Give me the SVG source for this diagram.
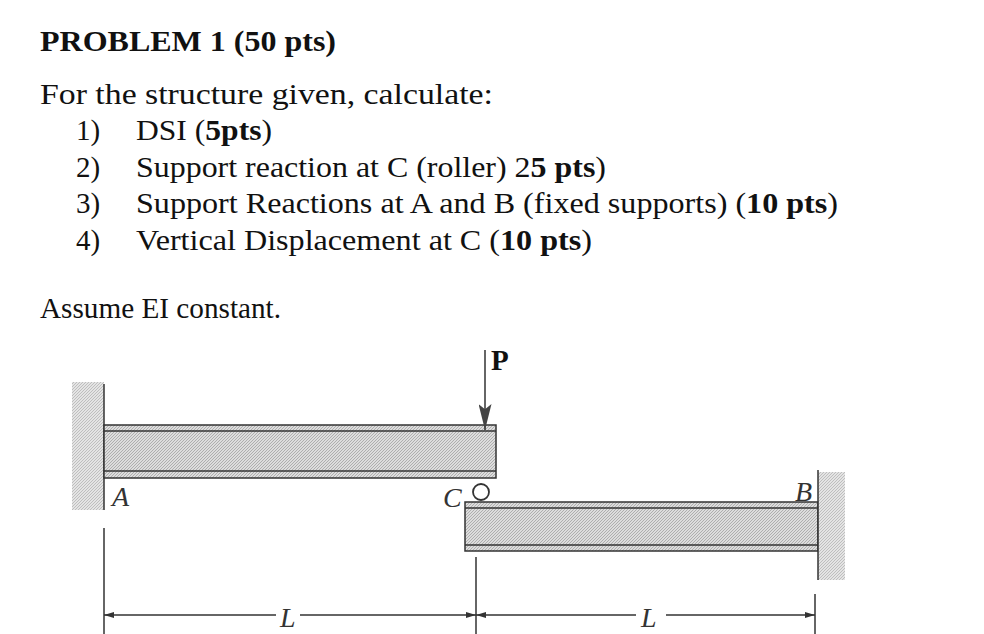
<svg xmlns="http://www.w3.org/2000/svg" width="984" height="634" viewBox="0 0 984 634">
<defs>
<pattern id="hatch" width="3" height="3" patternUnits="userSpaceOnUse"><rect width="3" height="3" fill="#ddd"/><path d="M0 3L3 0" stroke="#999" stroke-width="0.7"/></pattern>
<marker id="ah" viewBox="0 0 20 10" refX="20" refY="5" markerWidth="26" markerHeight="13" markerUnits="userSpaceOnUse" orient="auto-start-reverse"><path d="M0 0L20 5L0 10L4 5z" fill="#444"/></marker>
<marker id="dh" viewBox="0 0 10 6" refX="10" refY="3" markerWidth="12" markerHeight="6" markerUnits="userSpaceOnUse" orient="auto-start-reverse"><path d="M0 0L10 3L0 6z" fill="#333"/></marker>
</defs>
<style>
.t{font-family:"Liberation Serif",serif;font-size:29px;fill:#111}
.lb{font-family:"Liberation Serif",serif;font-style:italic;font-size:28px;fill:#333}
.ln{stroke:#333;stroke-width:1.5;fill:none}
.beam{fill:url(#hatch);stroke:#333;stroke-width:1.5}
</style>
<rect width="984" height="634" fill="#fff"/>
<g id="text">
<text class="t" x="40" y="51" font-weight="bold" textLength="296" lengthAdjust="spacingAndGlyphs">PROBLEM 1 (50 pts)</text>
<text class="t" x="40" y="104" textLength="453" lengthAdjust="spacingAndGlyphs">For the structure given, calculate:</text>
<text class="t" x="76" y="140">1)</text><text class="t" x="136" y="140" textLength="136" lengthAdjust="spacingAndGlyphs">DSI (<tspan font-weight="bold">5pts</tspan>)</text>
<text class="t" x="76" y="177">2)</text><text class="t" x="136" y="177" textLength="470" lengthAdjust="spacingAndGlyphs">Support reaction at C (roller) 2<tspan font-weight="bold">5 pts</tspan>)</text>
<text class="t" x="76" y="213">3)</text><text class="t" x="136" y="213" textLength="702" lengthAdjust="spacingAndGlyphs">Support Reactions at A and B (fixed supports) (<tspan font-weight="bold">10 pts</tspan>)</text>
<text class="t" x="76" y="250">4)</text><text class="t" x="136" y="250" textLength="456" lengthAdjust="spacingAndGlyphs">Vertical Displacement at C (<tspan font-weight="bold">10 pts</tspan>)</text>
<text class="t" x="40" y="318" textLength="241" lengthAdjust="spacingAndGlyphs">Assume EI constant.</text>
</g>
<g id="wallA"><rect x="72" y="382" width="32" height="128" fill="url(#hatch)" opacity="0.8"/><line class="ln" x1="104" y1="384" x2="104" y2="510"/></g>
<g id="beamAC">
<rect class="beam" x="104" y="425" width="392" height="53"/>
<line class="ln" x1="104" y1="431" x2="496" y2="431"/><line class="ln" x1="104" y1="471" x2="496" y2="471"/>
</g>
<g id="roller"><circle cx="481" cy="492" r="8" fill="#fff" stroke="#333" stroke-width="1.8"/></g>
<g id="beamCB">
<rect class="beam" x="465" y="502" width="353" height="49"/>
<line class="ln" x1="465" y1="508" x2="818" y2="508"/><line class="ln" x1="465" y1="545" x2="818" y2="545"/>
</g>
<g id="wallB"><rect x="818" y="472" width="27" height="108" fill="url(#hatch)" opacity="0.8"/><line class="ln" x1="818" y1="470" x2="818" y2="580"/></g>
<g id="labels">
<text class="lb" x="112" y="506">A</text>
<text class="lb" x="443" y="507">C</text>
<text class="lb" x="795" y="501">B</text>
<text class="t" x="491" y="370" font-weight="bold">P</text>
<text class="lb" x="280" y="627">L</text>
<text class="lb" x="641" y="627">L</text>
</g>
<g id="connectors">
<line class="ln" x1="485" y1="350" x2="485" y2="430" stroke-width="3" marker-end="url(#ah)"/>
<line class="ln" x1="104" y1="528" x2="104" y2="634"/>
<line class="ln" x1="476" y1="557" x2="476" y2="634"/>
<line class="ln" x1="815" y1="594" x2="815" y2="634"/>
<line class="ln" x1="104" y1="615" x2="276" y2="615" marker-start="url(#dh)"/>
<line class="ln" x1="300" y1="615" x2="476" y2="615" marker-end="url(#dh)"/>
<line class="ln" x1="476" y1="615" x2="636" y2="615" marker-start="url(#dh)"/>
<line class="ln" x1="666" y1="615" x2="815" y2="615" marker-end="url(#dh)"/>
</g>
</svg>
